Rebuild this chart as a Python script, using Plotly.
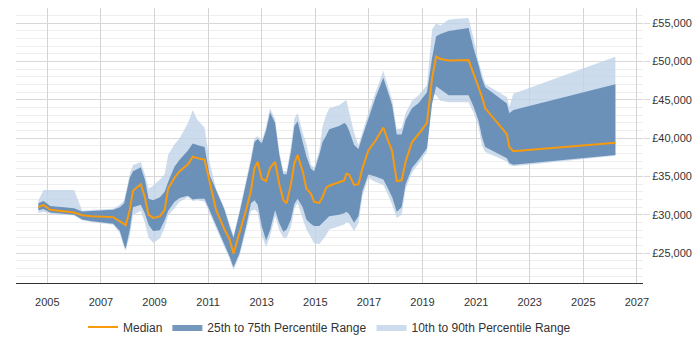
import plotly.graph_objects as go

dates = ["2004-09-01","2004-11-10","2005-02-10","2006-01-01","2006-04-20","2006-08-28","2007-06-18","2007-09-16",
         "2007-11-14","2007-12-05","2008-01-30","2008-03-14","2008-06-28","2008-08-22","2008-10-12","2008-12-13",
         "2009-03-15","2009-05-19","2009-07-05","2009-10-01","2009-12-09","2010-04-01","2010-06-06","2010-08-07",
         "2010-11-14","2011-01-19","2011-04-20","2011-08-11","2011-10-19","2011-12-13","2012-03-03","2012-06-03",
         "2012-08-07","2012-09-24","2012-11-07","2013-01-01","2013-03-01","2013-04-24","2013-07-02","2013-08-29",
         "2013-10-23","2013-12-06","2014-02-03","2014-03-22","2014-05-05","2014-07-13","2014-09-02","2014-11-03",
         "2014-12-17","2015-02-24","2015-04-09","2015-05-27","2015-07-09","2015-11-21","2016-01-30","2016-02-28",
         "2016-04-05","2016-06-13","2016-08-11","2016-10-05","2016-12-24","2017-04-01","2017-07-16","2017-09-09",
         "2017-11-14","2018-01-15","2018-03-22","2018-05-16","2018-08-11","2018-11-10","2019-03-03","2019-05-12",
         "2019-07-06","2019-09-02","2019-12-24","2020-09-20","2020-11-28","2021-02-02","2021-03-21","2021-05-05",
         "2022-02-24","2022-03-29","2022-05-23","2026-03-14"]

median = [31000,31300,30650,30300,29950,29800,29700,29100,
          28750,28650,30650,33150,34000,32300,30000,29600,
          29800,30650,33400,34850,35700,36600,37600,37400,
          37200,34400,30650,28100,26850,24950,27600,30650,
          33150,36100,36900,34700,34400,36100,36900,34000,
          31900,31500,34000,36750,37800,35700,33400,32750,
          31700,31550,32300,33500,33800,34200,34500,35350,
          35250,33900,34000,36100,38400,39700,41400,39900,
          38300,34400,34500,36950,39500,40550,42000,47900,
          50650,50350,50150,50200,48500,46650,45400,43900,
          40540,38850,38300,39400]

p25 = [30600,30750,30300,30000,29400,29150,28850,27900,
       26000,25600,28100,31000,31300,30200,28700,27900,
       28000,29300,30500,31700,32200,32500,32000,32100,
       32100,30640,28550,26100,24600,23150,24950,28550,
       31500,31900,31300,28500,26650,28000,30600,28900,
       27800,28100,29400,31400,32100,31000,29400,28800,
       28550,28540,28900,29400,29800,30000,30200,30400,
       30100,28950,29800,33100,35250,35000,34600,33600,
       32300,30400,31000,34000,36100,37200,38700,44500,
       46800,46400,45600,45600,44100,42300,40200,38850,
       37400,36750,36530,37800]

p75 = [31500,31800,31150,30850,30450,30500,30650,31000,
       31500,32500,34850,35700,36200,34600,32100,31900,
       32300,33000,34300,36300,37200,38400,39300,39100,
       38850,35270,33150,30700,28550,27000,30200,34000,
       37000,39500,39900,39300,41000,43400,42000,37800,
       35300,35300,38200,41600,42200,39500,37600,36000,
       35700,37800,39500,40300,41170,41600,42000,41800,
       41000,39100,38600,40300,42600,45300,47900,46200,
       44300,40500,40500,42400,43900,44600,46000,50500,
       53300,53600,54000,54400,51700,49580,47800,46640,
       44530,43270,43700,47060]

p10 = [30200,30400,30150,29900,29300,29050,28700,27600,
       25700,25300,27300,30000,30500,29000,27000,26350,
       26900,28300,29900,30850,31700,32300,31800,31900,
       31700,30400,28300,25800,24300,22800,24600,28000,
       30500,30700,30300,27300,25800,27200,29800,28000,
       27000,27000,28400,30800,31500,29500,28100,27000,
       26300,26200,26800,27300,28100,28500,28750,29000,
       28900,27900,28900,32500,34800,34300,33900,32800,
       31300,29600,30000,33400,35500,36700,38200,45800,
       45600,44900,44700,44700,43300,41500,39060,38200,
       36950,36500,36350,37700]

p90 = [31900,33250,33250,33250,30550,30600,30800,31300,
       31900,32800,35400,36500,36900,35300,33400,33800,
       34600,35300,37800,39200,40000,42000,43700,42400,
       41400,36950,33400,30900,28800,27300,30500,34500,
       37500,40000,40300,39600,41500,43900,42500,38200,
       35700,35700,39000,42600,43300,40700,39200,36500,
       36200,38400,41500,43000,43900,44300,44750,45000,
       43500,40700,39100,40800,43300,46000,48800,47000,
       45000,41200,41300,43300,44900,45600,46900,54200,
       55000,54700,55500,55700,53000,50000,48400,47060,
       45370,44110,45800,50640]

fig = go.Figure()

fig.add_trace(go.Scatter(
    x=dates + dates[::-1], y=p90 + p10[::-1], fill="toself",
    fillcolor="rgba(193,211,231,0.8)", line=dict(width=0), mode="lines",
    name="10th to 90th Percentile Range", hoverinfo="skip"))

fig.add_trace(go.Scatter(
    x=dates + dates[::-1], y=p75 + p25[::-1], fill="toself",
    fillcolor="rgba(84,126,172,0.8)", line=dict(width=0), mode="lines",
    name="25th to 75th Percentile Range", hoverinfo="skip"))

fig.add_trace(go.Scatter(
    x=dates, y=median, mode="lines", name="Median",
    line=dict(color="#f99a0c", width=2)))

fig.update_layout(
    width=700, height=350,
    margin=dict(l=16, r=55, t=8, b=58),
    paper_bgcolor="white", plot_bgcolor="white",
    font=dict(family="Liberation Sans, Arial, sans-serif", color="#333333", size=12),
    showlegend=True,
    legend=dict(orientation="h", x=0.5, xanchor="center", y=-0.16, yanchor="middle",
                traceorder="reversed", font=dict(size=12), itemwidth=30),
    xaxis=dict(type="date", range=["2003-11-01", "2027-03-25"],
               tick0="2005-01-01", dtick="M24", tickformat="%Y",
               showgrid=True, gridcolor="#d4d4d4", gridwidth=1,
               showline=True, linecolor="#333333", linewidth=1,
               ticks="outside", ticklen=9, tickcolor="rgba(0,0,0,0)",
               tickfont=dict(size=11), zeroline=False),
    yaxis=dict(side="right", range=[21100, 57000], tick0=25000, dtick=5000,
               tickprefix="£", separatethousands=True, tickformat=",d",
               showgrid=True, gridcolor="#d8d8d8", gridwidth=1,
               minor=dict(dtick=1000, showgrid=True, gridcolor="#eeeeee"),
               ticks="outside", ticklen=6, tickcolor="#d8d8d8",
               tickfont=dict(size=11), zeroline=False, showline=False),
)

fig.write_html("out.html")
